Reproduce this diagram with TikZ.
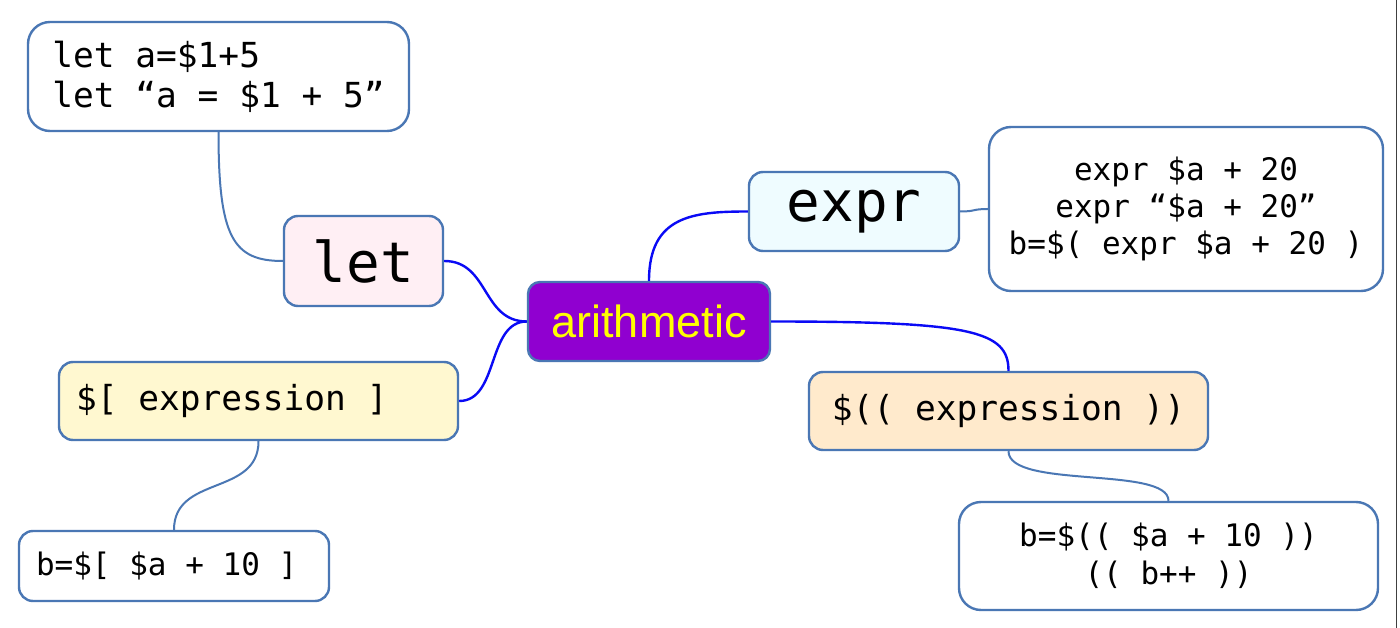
\documentclass[tikz,border=0pt]{standalone}
\usepackage{fontspec}
\setmonofont{DejaVu Sans Mono}
\setsansfont{Liberation Sans}
\definecolor{edgeblue}{HTML}{4A77B4}
\definecolor{linkblue}{HTML}{0A0AF5}
\definecolor{pinkfill}{HTML}{FFEFF4}
\definecolor{cyanfill}{HTML}{EFFCFF}
\definecolor{yellowfill}{HTML}{FFF8D0}
\definecolor{orangefill}{HTML}{FFEACC}
\definecolor{arithfill}{HTML}{9000D0}
\definecolor{arithtext}{HTML}{FFFF00}
\newcommand\fcodeA{\ttfamily\fontsize{34.5pt}{40pt}\selectfont}
\newcommand\fcodeB{\ttfamily\fontsize{31pt}{37pt}\selectfont}
\newcommand\fcodeC{\ttfamily\fontsize{31pt}{38pt}\selectfont}
\newcommand\fbigmono{\ttfamily\fontsize{56pt}{60pt}\selectfont}
\newcommand\farith{\sffamily\fontsize{45pt}{50pt}\selectfont}
\begin{document}
\begin{tikzpicture}[x=1pt,y=-1pt,
  box/.style={draw=edgeblue, line width=2.4pt, rounded corners=14pt, inner sep=0pt, text=black},
  codebox/.style={box, fill=white, rounded corners=22pt},
  blueline/.style={draw=linkblue, line width=2.4pt},
  steelline/.style={draw=edgeblue, line width=2pt}]
\useasboundingbox (0,0) rectangle (1400,628);
\fill[white] (0,0) rectangle (1400,628);
\draw[line width=1pt, black!75] (1396,0) -- (1396,628);

% nodes
\node[codebox, minimum width=381pt, minimum height=109pt, font=\fcodeA, align=left] (letcode) at (218.5,76.5) {let a=\$1+5\\let “a = \$1 + 5”};
\node[box, fill=pinkfill, minimum width=159pt, minimum height=90pt, font=\fbigmono] (let) at (363.5,261) {let};
\node[box, fill=arithfill, draw=edgeblue, text=arithtext, minimum width=242pt, minimum height=79pt, font=\farith, rounded corners=12pt] (arith) at (649,321.5) {arithmetic};
\node[box, fill=cyanfill, minimum width=210pt, minimum height=79pt, font=\fbigmono] (expr) at (854,211.5) {expr};
\node[codebox, minimum width=394pt, minimum height=164pt, font=\fcodeB, align=center] (exprcode) at (1186,209) {expr \$a + 20\\expr “\$a + 20”\\b=\$( expr \$a + 20 )};
\node[box, fill=yellowfill, minimum height=78pt, inner xsep=17pt, font=\fcodeA] (sqexp) at (258.5,401) {\makebox[365pt][l]{\$[ expression ]}};
\node[box, fill=white, minimum height=70pt, inner xsep=17pt, font=\fcodeC] (sqcode) at (174,566) {\makebox[276pt][l]{b=\$[ \$a + 10 ]}};
\node[box, fill=orangefill, minimum width=399pt, minimum height=78pt, font=\fcodeA] (parexp) at (1008.5,411) {\$(( expression ))};
\node[codebox, minimum width=419pt, minimum height=108pt, font=\fcodeC, align=center] (parcode) at (1168.5,556) {b=\$(( \$a + 10 ))\\(( b++ ))};

% main connectors
\draw[blueline] (let.east) .. controls +(45,0) and +(-45,0) .. (arith.west);
\draw[blueline] (sqexp.east) .. controls +(40,0) and +(-40,0) .. (arith.west);
\draw[blueline] (arith.north) .. controls +(0,-65) and +(-55,0) .. (expr.west);
\draw[blueline] (arith.east) .. controls +(200,0) and +(0,-40) .. (parexp.north);

% sub connectors
\draw[steelline] (letcode.south) .. controls +(0,105) and +(-50,0) .. (let.west);
\draw[steelline] (expr.east) .. controls +(16,0) and +(-16,0) .. (exprcode.west);
\draw[steelline] (sqexp.south) .. controls +(0,55) and +(0,-55) .. (sqcode.north);
\draw[steelline] (parexp.south) .. controls +(0,38) and +(0,-35) .. (parcode.north);
\end{tikzpicture}
\end{document}
